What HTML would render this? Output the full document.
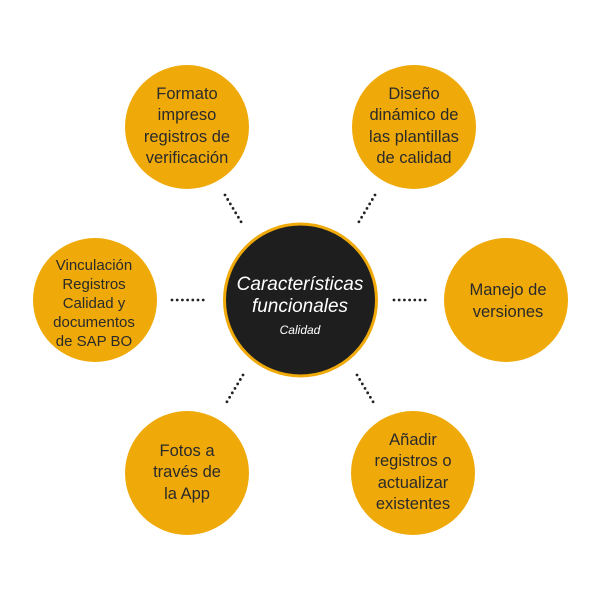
<!DOCTYPE html>
<html><head><meta charset="utf-8"><style>
html,body{margin:0;padding:0;background:#fff;}
svg{display:block;}
text{font-family:"Liberation Sans",sans-serif;}
.n{font-size:16.5px;fill:#2a2a2a;text-anchor:middle;}
</style></head><body>
<svg width="600" height="600" viewBox="0 0 600 600">
<g stroke="#222" stroke-width="2.8" stroke-linecap="round" stroke-dasharray="0 5.2">
<line x1="225" y1="195" x2="243" y2="225"/>
<line x1="375" y1="195" x2="357" y2="225"/>
<line x1="172" y1="300" x2="207" y2="300"/>
<line x1="394" y1="300" x2="429" y2="300"/>
<line x1="243" y1="375" x2="225" y2="405"/>
<line x1="357" y1="375" x2="375" y2="405"/>
</g>
<g fill="#EFAA0A">
<circle cx="187" cy="127" r="62"/>
<circle cx="414" cy="127" r="62"/>
<circle cx="95" cy="300" r="62"/>
<circle cx="506" cy="300" r="62"/>
<circle cx="187" cy="473" r="62"/>
<circle cx="413" cy="473" r="62"/>
</g>
<circle cx="300.5" cy="300" r="76" fill="#1e1e1e" stroke="#EFAA0A" stroke-width="3"/>
<text x="300" y="290" font-size="19" font-style="italic" fill="#fff" text-anchor="middle">Características</text>
<text x="300" y="312" font-size="19" font-style="italic" fill="#fff" text-anchor="middle">funcionales</text>
<text x="300" y="334" font-size="12" font-style="italic" fill="#fff" text-anchor="middle">Calidad</text>
<text class="n"><tspan x="187" y="99">Formato</tspan><tspan x="187" y="120">impreso</tspan><tspan x="187" y="142">registros de</tspan><tspan x="187" y="163">verificación</tspan></text>
<text class="n"><tspan x="414" y="99">Diseño</tspan><tspan x="414" y="120">dinámico de</tspan><tspan x="414" y="142">las plantillas</tspan><tspan x="414" y="163">de calidad</tspan></text>
<text class="n" style="font-size:15px"><tspan x="94" y="270">Vinculación</tspan><tspan x="94" y="289">Registros</tspan><tspan x="94" y="308">Calidad y</tspan><tspan x="94" y="327">documentos</tspan><tspan x="94" y="346">de SAP BO</tspan></text>
<text class="n"><tspan x="508" y="295">Manejo de</tspan><tspan x="508" y="317">versiones</tspan></text>
<text class="n"><tspan x="187" y="456">Fotos a</tspan><tspan x="187" y="477">través de</tspan><tspan x="187" y="499">la App</tspan></text>
<text class="n"><tspan x="413" y="445">Añadir</tspan><tspan x="413" y="466">registros o</tspan><tspan x="413" y="488">actualizar</tspan><tspan x="413" y="509">existentes</tspan></text>
</svg>
</body></html>
